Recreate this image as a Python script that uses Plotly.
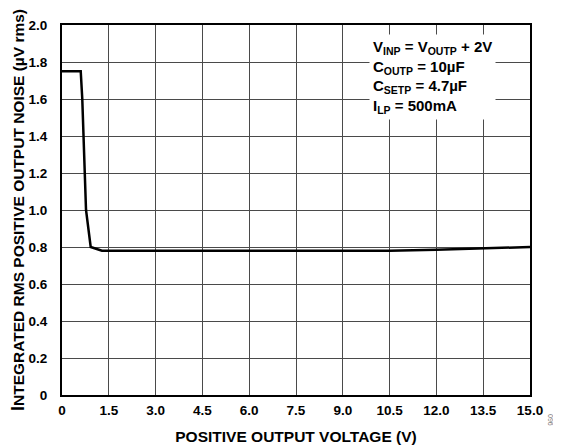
import plotly.graph_objects as go

# noise curve
voltage = [0, 0.6, 0.65, 0.77, 0.92, 1.28, 3.0, 6.0, 9.0, 10.5, 12.0, 13.5, 15.0]
noise = [1.75, 1.75, 1.60, 1.00, 0.80, 0.78, 0.78, 0.78, 0.78, 0.78, 0.785, 0.792, 0.80]

x_ticks = [0, 1.5, 3.0, 4.5, 6.0, 7.5, 9.0, 10.5, 12.0, 13.5, 15.0]
x_labels = ["0", "1.5", "3.0", "4.5", "6.0", "7.5", "9.0", "10.5", "12.0", "13.5", "15.0"]
y_ticks = [0, 0.2, 0.4, 0.6, 0.8, 1.0, 1.2, 1.4, 1.6, 1.8, 2.0]
y_labels = ["0", "0.2", "0.4", "0.6", "0.8", "1.0", "1.2", "1.4", "1.6", "1.8", "2.0"]

font = "Liberation Sans, Arial, sans-serif"

fig = go.Figure()
fig.add_trace(go.Scatter(x=voltage, y=noise, mode="lines",
                         line=dict(color="black", width=2.5), showlegend=False))

# page body adds 8px, so the figure is 8px smaller than the window
fig.update_layout(
    width=553, height=440,
    margin=dict(l=54, r=31, t=17, b=53),
    paper_bgcolor="white", plot_bgcolor="white",
    font=dict(family=font, size=13, color="black"),
    xaxis=dict(
        range=[0, 15], tickvals=x_ticks,
        ticktext=["<b>%s</b>" % t for t in x_labels],
        showgrid=True, gridcolor="#4a4a4a", gridwidth=1,
        showline=True, linecolor="black", linewidth=2, mirror=True,
        ticks="", zeroline=False, automargin=False, ticklabelstandoff=2,
        tickfont=dict(family=font, size=13.5, color="black"),
        title=dict(text="<b>POSITIVE OUTPUT VOLTAGE (V)</b>", standoff=14,
                   font=dict(family=font, size=15.5)),
    ),
    yaxis=dict(
        range=[0, 2.0], tickvals=y_ticks,
        ticktext=["<b>%s</b>" % t for t in y_labels],
        showgrid=True, gridcolor="#4a4a4a", gridwidth=1,
        showline=True, linecolor="black", linewidth=2, mirror=True,
        ticks="", zeroline=False, automargin=False, ticklabelstandoff=10,
        tickfont=dict(family=font, size=13.5, color="black"),
        title=dict(text="<b><span style='font-size:18px'>I</span>NTEGRATED RMS POSITIVE OUTPUT NOISE (µV rms)</b>",
                   standoff=12, font=dict(family=font, size=15.5)),
    ),
)

notes = [
    "<b>V<sub>INP</sub> = V<sub>OUTP</sub> + 2V</b>",
    "<b>C<sub>OUTP</sub> = 10µF</b>",
    "<b>C<sub>SETP</sub> = 4.7µF</b>",
    "<b>I<sub>LP</sub> = 500mA</b>",
]
fig.add_annotation(
    text="<br>".join(notes), xref="paper", yref="paper",
    x=0.655, y=0.975, xanchor="left", yanchor="top", align="left",
    showarrow=False, bgcolor="white", borderpad=3,
    font=dict(family=font, size=15, color="black"),
)

fig.add_annotation(
    text="096", xref="paper", yref="paper", x=1.055, y=-0.09,
    textangle=90, showarrow=False, font=dict(family=font, size=7, color="#777777"),
)

fig.write_html("out.html")
